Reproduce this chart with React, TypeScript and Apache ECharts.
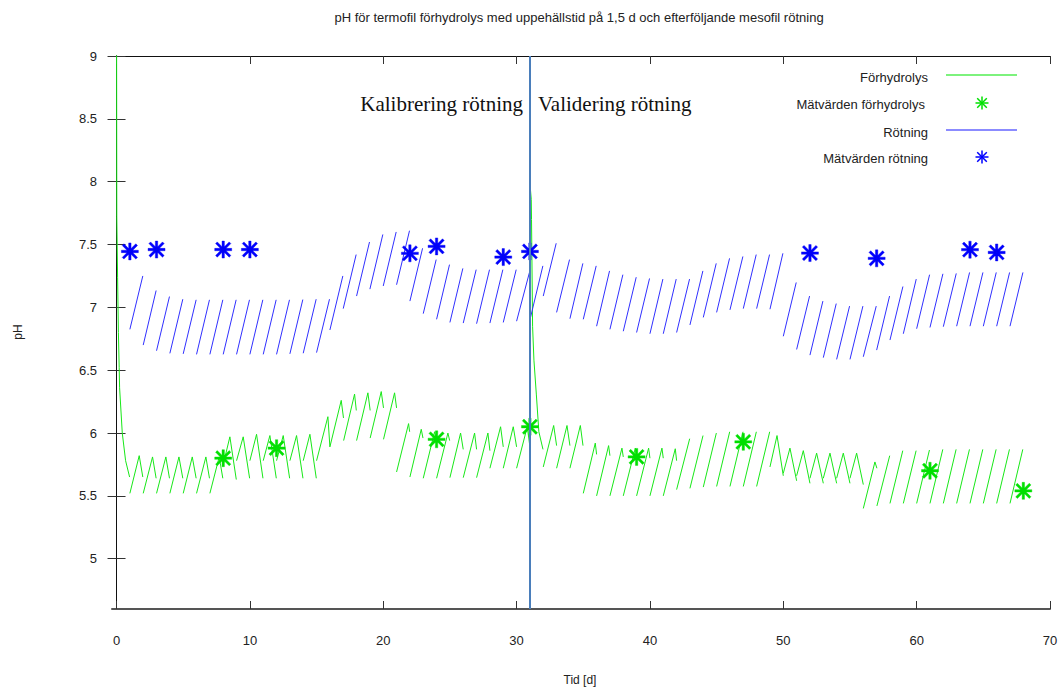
import React, { useEffect, useRef } from "react";
import * as echarts from "echarts";

type Pt = [number, number];

// Förhydrolys (green) – segments of [day, pH]
const forhydrolysSegments: Pt[][] = [
  [[0, 9.6], [0.02, 7.72], [0.08, 7.24], [0.14, 6.8], [0.2, 6.52], [0.23, 6.36], [0.43, 6.0], [0.68, 5.78], [0.98, 5.65]],
  [[1, 5.52], [1.7, 5.82], [1.97, 5.65]],
  [[2, 5.52], [2.7, 5.81], [2.97, 5.64]],
  [[3, 5.52], [3.7, 5.81], [3.97, 5.64]],
  [[4, 5.52], [4.68, 5.81], [4.97, 5.64]],
  [[5, 5.52], [5.68, 5.81], [5.97, 5.64]],
  [[6, 5.52], [6.7, 5.81], [6.97, 5.64]],
  [[7, 5.52], [7.7, 5.81], [7.97, 5.64]],
  [[8, 5.75], [8.5, 5.97], [8.98, 5.63]],
  [[9, 5.78], [9.5, 5.97], [9.98, 5.64]],
  [[10, 5.78], [10.5, 5.99], [10.98, 5.64]],
  [[11, 5.78], [11.5, 5.98], [11.98, 5.64]],
  [[12, 5.78], [12.5, 5.98], [12.98, 5.64]],
  [[13, 5.78], [13.5, 5.98], [13.98, 5.64]],
  [[14, 5.78], [14.5, 5.99], [14.98, 5.64]],
  [[15, 5.78], [15.85, 6.13], [16, 5.89]],
  [[16, 5.89], [16.85, 6.26], [17.02, 6.12]],
  [[17.03, 5.94], [17.85, 6.31], [17.98, 6.18]],
  [[18, 5.94], [18.85, 6.32], [19.02, 6.18]],
  [[19.02, 5.96], [19.85, 6.33], [20.02, 6.2]],
  [[20.02, 5.95], [20.85, 6.32], [21, 6.2]],
  [[21, 5.69], [21.9, 6.075], [21.98, 6.01]],
  [[22, 5.65], [22.85, 6.03], [22.98, 5.96]],
  [[23, 5.64], [23.85, 6.01], [23.98, 5.95]],
  [[24, 5.64], [24.85, 6.0], [24.98, 5.94]],
  [[25, 5.645], [25.8, 6.0], [26, 5.87]],
  [[26, 5.645], [26.85, 6.0], [27, 5.87]],
  [[27, 5.645], [27.85, 6.0], [28, 5.86]],
  [[28, 5.72], [28.8, 6.05], [29, 5.89]],
  [[29, 5.72], [29.75, 6.05], [30, 5.89]],
  [[30, 5.72], [30.8, 6.05], [31, 5.89]],
  [[31.03, 7.95], [31.1, 7.86], [31.12, 7.7], [31.2, 6.85], [31.3, 6.58], [31.48, 6.31], [31.67, 6.01], [31.98, 5.87]],
  [[32, 5.73], [32.78, 6.06], [33, 5.9]],
  [[33, 5.72], [33.78, 6.06], [34, 5.9]],
  [[34, 5.72], [34.78, 6.06], [34.98, 5.9]],
  [[35, 5.52], [35.9, 5.92], [36, 5.83]],
  [[36, 5.5], [36.9, 5.9], [37, 5.82]],
  [[37, 5.5], [37.9, 5.88], [38, 5.81]],
  [[38, 5.5], [38.9, 5.88], [39, 5.81]],
  [[39, 5.5], [39.9, 5.88], [40, 5.8]],
  [[40, 5.5], [40.9, 5.88], [41, 5.8]],
  [[41, 5.5], [41.9, 5.875], [42, 5.78]],
  [[42, 5.55], [42.98, 5.955]],
  [[43, 5.56], [43.98, 5.98]],
  [[44, 5.57], [44.98, 6.0]],
  [[45, 5.575], [45.98, 6.01]],
  [[46, 5.575], [46.98, 6.01]],
  [[47, 5.575], [47.98, 6.01]],
  [[48, 5.575], [48.98, 6.01]],
  [[49, 5.73], [49.53, 5.98], [50, 5.66]],
  [[50, 5.68], [50.5, 5.88], [51, 5.62]],
  [[51, 5.66], [51.5, 5.86], [52, 5.6]],
  [[52, 5.64], [52.5, 5.84], [53, 5.6]],
  [[53, 5.64], [53.5, 5.84], [54, 5.6]],
  [[54, 5.64], [54.5, 5.84], [55, 5.6]],
  [[55, 5.64], [55.5, 5.84], [56, 5.59]],
  [[56, 5.4], [56.87, 5.77], [57.02, 5.72]],
  [[57.02, 5.42], [57.98, 5.82]],
  [[58, 5.44], [58.96, 5.86]],
  [[59, 5.44], [59.96, 5.86]],
  [[60, 5.44], [60.96, 5.865]],
  [[61, 5.44], [61.96, 5.87]],
  [[62, 5.44], [62.96, 5.87]],
  [[63, 5.44], [63.96, 5.87]],
  [[64, 5.44], [64.96, 5.87]],
  [[65, 5.44], [65.96, 5.87]],
  [[66, 5.44], [66.96, 5.87]],
  [[67, 5.44], [67.96, 5.87]],
];

// Rötning (blue) – each day a rising segment from low to high
const rotningStartDay = [
  1, 2, 3, 4, 5, 6, 7, 8, 9, 10, 11, 12, 13, 14, 15, 16, 17, 18, 19, 20, 21, 22, 23, 24, 25, 26, 27, 28, 29, 30, 31, 32, 33, 34,
  35, 36, 37, 38, 39, 40, 41, 42, 43, 44, 45, 46, 47, 48, 49, 50, 51, 52, 53, 54, 55, 56, 57, 58, 59, 60, 61, 62, 63, 64, 65, 66, 67,
];
const rotningEndDay = [
  1.97, 2.97, 3.97, 4.97, 5.97, 6.97, 7.97, 8.97, 9.97, 10.97, 11.97, 12.97, 13.97, 14.97, 15.97, 16.97, 17.97, 18.97, 19.97, 20.97,
  21.97, 22.95, 23.97, 24.97, 25.97, 26.97, 27.97, 28.97, 29.97, 30.97, 31.97, 32.97, 33.97, 34.97, 35.97, 36.97, 37.97, 38.97,
  39.97, 40.97, 41.97, 42.97, 43.97, 44.97, 45.97, 46.97, 47.97, 48.97, 49.97, 50.97, 51.97, 52.97, 53.97, 54.97, 55.97, 56.97,
  57.97, 58.97, 59.97, 60.97, 61.97, 62.97, 63.97, 64.97, 65.97, 66.97, 67.97,
];
const rotningLow = [
  6.825, 6.7, 6.655, 6.634, 6.63, 6.626, 6.626, 6.626, 6.626, 6.626, 6.626, 6.626, 6.63, 6.635, 6.64, 6.82, 6.99, 7.09, 7.145, 7.17,
  7.18, 7.05, 6.95, 6.905, 6.88, 6.875, 6.87, 6.875, 6.88, 6.89, 6.9, 7.09, 6.96, 6.91, 6.905, 6.85, 6.825, 6.81, 6.8, 6.79, 6.79,
  6.8, 6.86, 6.92, 6.96, 6.98, 6.99, 6.99, 6.985, 6.77, 6.665, 6.62, 6.6, 6.586, 6.586, 6.607, 6.66, 6.74, 6.79, 6.83, 6.84, 6.846,
  6.85, 6.85, 6.85, 6.85, 6.85,
];
const rotningHigh = [
  7.25, 7.134, 7.086, 7.065, 7.06, 7.06, 7.06, 7.06, 7.06, 7.06, 7.06, 7.06, 7.062, 7.065, 7.065, 7.25, 7.42, 7.52, 7.58, 7.6,
  7.61, 7.47, 7.38, 7.34, 7.31, 7.3, 7.3, 7.3, 7.3, 7.28, 7.33, 7.51, 7.38, 7.35, 7.33, 7.29, 7.26, 7.24, 7.23, 7.225, 7.225,
  7.225, 7.29, 7.35, 7.39, 7.405, 7.42, 7.42, 7.43, 7.198, 7.09, 7.05, 7.03, 7.01, 7.01, 7.01, 7.09, 7.166, 7.225, 7.26, 7.267,
  7.27, 7.278, 7.278, 7.278, 7.278, 7.278,
];

// Measurements
const matForhydrolysDay = [8, 12, 24, 31, 39, 47, 61, 68];
const matForhydrolysPH = [5.8, 5.88, 5.95, 6.05, 5.81, 5.93, 5.7, 5.54];
const matRotningDay = [1, 3, 8, 10, 22, 24, 29, 31, 52, 57, 64, 66];
const matRotningPH = [7.445, 7.46, 7.46, 7.46, 7.43, 7.485, 7.4, 7.445, 7.432, 7.39, 7.459, 7.437];

const xTicks = [0, 10, 20, 30, 40, 50, 60, 70];
const yTicks = [5, 5.5, 6, 6.5, 7, 7.5, 8, 8.5, 9];
const splitDay = 31;

const STAR =
  "path://M43 0H57V100H43Z M0 43H100V57H0Z M5 15L15 5L95 85L85 95Z M85 5L95 15L15 95L5 85Z";

const GREEN = "#18e818";
const BLUE = "#3030ff";

function segmentsToData(segs: Pt[][]) {
  const out: any[] = [];
  segs.forEach((s, i) => {
    if (i > 0) out.push([s[0][0], "-"]);
    s.forEach((p) => out.push([p[0], p[1]]));
  });
  return out;
}

function rotningData() {
  const out: any[] = [];
  rotningStartDay.forEach((d, i) => {
    if (i > 0) out.push([d, "-"]);
    out.push([d, rotningLow[i]]);
    out.push([rotningEndDay[i], rotningHigh[i]]);
  });
  return out;
}

function legendStar(cx: number, cy: number, color: string) {
  const r = 6.5;
  const q = 4.8;
  const segs = [
    [cx - r, cy, cx + r, cy],
    [cx, cy - r, cx, cy + r],
    [cx - q, cy - q, cx + q, cy + q],
    [cx - q, cy + q, cx + q, cy - q],
  ];
  return segs.map((s) => ({
    type: "line",
    shape: { x1: s[0], y1: s[1], x2: s[2], y2: s[3] },
    style: { stroke: color, lineWidth: 1.5 },
    silent: true,
  }));
}

export default function App() {
  const ref = useRef<HTMLDivElement>(null);
  useEffect(() => {
    if (!ref.current) return;
    const chart = echarts.init(ref.current, undefined, { renderer: "svg" });
    const font = "'Liberation Sans', Arial, sans-serif";
    const serif = "'Liberation Serif', 'Times New Roman', serif";
    const axisBase = {
      type: "value" as const,
      splitLine: { show: false },
    };
    chart.setOption({
      animation: false,
      backgroundColor: "#ffffff",
      textStyle: { fontFamily: font },
      grid: { left: 112, right: 12, top: 56, bottom: 81, containLabel: false },
      xAxis: [
        {
          ...axisBase,
          min: -0.34,
          max: 70,
          position: "bottom",
          axisLine: { show: true, lineStyle: { color: "#555", width: 2 } },
          axisTick: { show: true, inside: true, length: 8, customValues: xTicks, lineStyle: { color: "#333" } },
          axisLabel: { show: true, customValues: xTicks, margin: 25, fontSize: 13, color: "#222", fontFamily: font },
        },
        {
          ...axisBase,
          min: -0.34,
          max: 70,
          position: "top",
          axisLine: { show: true, lineStyle: { color: "#111", width: 1 } },
          axisTick: { show: true, inside: true, length: 8, customValues: xTicks, lineStyle: { color: "#333" } },
          axisLabel: { show: false },
        },
      ],
      yAxis: [
        {
          ...axisBase,
          min: 4.6,
          max: 9,
          position: "left",
          axisLine: { show: true, lineStyle: { color: "#111", width: 1 } },
          axisTick: { show: true, inside: true, length: 9, customValues: yTicks, lineStyle: { color: "#333" } },
          axisLabel: {
            show: true,
            customValues: yTicks,
            margin: 15,
            fontSize: 13,
            color: "#222",
            fontFamily: font,
            formatter: (v: number) => String(v),
          },
        },
        {
          ...axisBase,
          min: 4.6,
          max: 9,
          position: "right",
          axisLine: { show: true, lineStyle: { color: "#111", width: 1 } },
          axisTick: { show: true, inside: true, length: 9, customValues: yTicks, lineStyle: { color: "#333" } },
          axisLabel: { show: false },
        },
      ],
      series: [
        {
          name: "Förhydrolys",
          type: "line",
          data: segmentsToData(forhydrolysSegments),
          showSymbol: false,
          connectNulls: false,
          lineStyle: { color: GREEN, width: 1 },
          itemStyle: { color: GREEN },
          z: 2,
          clip: true,
        },
        {
          name: "Rötning",
          type: "line",
          data: rotningData(),
          showSymbol: false,
          connectNulls: false,
          lineStyle: { color: BLUE, width: 1 },
          itemStyle: { color: BLUE },
          z: 2,
          clip: true,
        },
        {
          name: "Mätvärden förhydrolys",
          type: "scatter",
          data: matForhydrolysDay.map((d, i) => [d, matForhydrolysPH[i]]),
          symbol: STAR,
          symbolSize: 17,
          itemStyle: { color: "#00e000", borderColor: "#00dd00", borderWidth: 0.4, opacity: 1 },
          z: 3,
        },
        {
          name: "Mätvärden rötning",
          type: "scatter",
          data: matRotningDay.map((d, i) => [d, matRotningPH[i]]),
          symbol: STAR,
          symbolSize: 17,
          itemStyle: { color: "#0000ff", borderColor: "#0000ee", borderWidth: 0.4, opacity: 1 },
          z: 4,
          markLine: {
            silent: true,
            symbol: ["none", "none"],
            label: { show: false },
            lineStyle: { color: "#4a7ebb", width: 2, type: "solid" },
            data: [{ xAxis: splitDay }],
            z: 5,
          },
        },
      ],
      graphic: [
        {
          type: "text",
          x: 579,
          y: 17,
          style: {
            text: "pH för termofil förhydrolys med uppehällstid på 1,5 d och efterföljande mesofil rötning",
            font: `13px ${font}`,
            fill: "#222",
            textAlign: "center",
            textVerticalAlign: "middle",
          },
        },
        {
          type: "text",
          x: 580,
          y: 680,
          style: { text: "Tid [d]", font: `12px ${font}`, fill: "#222", textAlign: "center", textVerticalAlign: "middle" },
        },
        {
          type: "text",
          x: 18,
          y: 332,
          rotation: Math.PI / 2,
          style: { text: "pH", font: `12px ${font}`, fill: "#222", textAlign: "center", textVerticalAlign: "middle" },
        },
        {
          type: "text",
          x: 523,
          y: 104,
          style: {
            text: "Kalibrering rötning",
            font: `21px ${serif}`,
            fill: "#111",
            textAlign: "right",
            textVerticalAlign: "middle",
          },
        },
        {
          type: "text",
          x: 538,
          y: 104,
          style: {
            text: "Validering rötning",
            font: `21px ${serif}`,
            fill: "#111",
            textAlign: "left",
            textVerticalAlign: "middle",
          },
        },
        {
          type: "text",
          x: 928,
          y: 77,
          style: { text: "Förhydrolys", font: `13px ${font}`, fill: "#222", textAlign: "right", textVerticalAlign: "middle" },
        },
        {
          type: "line",
          shape: { x1: 946, y1: 75, x2: 1017, y2: 75 },
          style: { stroke: GREEN, lineWidth: 1.5, opacity: 0.75 },
        },
        {
          type: "text",
          x: 925,
          y: 104,
          style: {
            text: "Mätvärden förhydrolys",
            font: `13px ${font}`,
            fill: "#222",
            textAlign: "right",
            textVerticalAlign: "middle",
          },
        },
        ...legendStar(982, 103, "#00e000"),
        {
          type: "text",
          x: 928,
          y: 132,
          style: { text: "Rötning", font: `13px ${font}`, fill: "#222", textAlign: "right", textVerticalAlign: "middle" },
        },
        {
          type: "line",
          shape: { x1: 946, y1: 130, x2: 1017, y2: 130 },
          style: { stroke: BLUE, lineWidth: 1.5, opacity: 0.75 },
        },
        {
          type: "text",
          x: 928,
          y: 158,
          style: {
            text: "Mätvärden rötning",
            font: `13px ${font}`,
            fill: "#222",
            textAlign: "right",
            textVerticalAlign: "middle",
          },
        },
        ...legendStar(982, 157, "#0000ff"),
      ],
    });
    return () => chart.dispose();
  }, []);
  return (
    <div
      ref={ref}
      style={{ position: "absolute", left: 0, top: 0, width: 1062, height: 690, background: "#fff" }}
    />
  );
}
